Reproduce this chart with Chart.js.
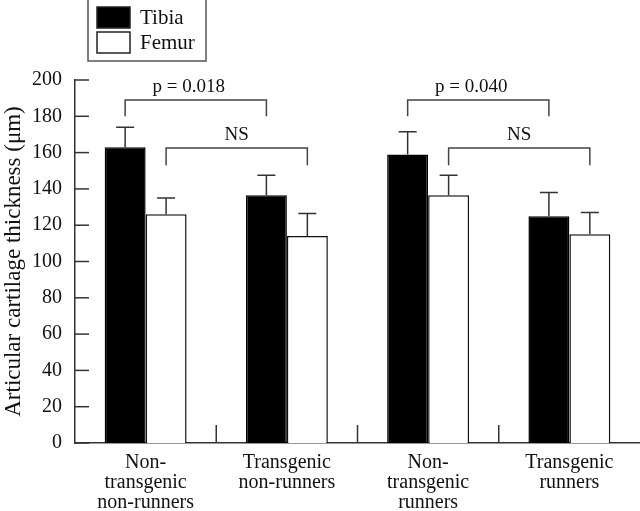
<!DOCTYPE html>
<html><head><meta charset="utf-8">
<script src="https://cdn.jsdelivr.net/npm/chart.js@4"></script>
<style>html,body{margin:0;padding:0;background:#fff}#wrap{width:640px;height:511px}</style>
</head><body><div id="wrap"><canvas id="c" width="640" height="511"></canvas></div>
<script>
const categories = [["Non-","transgenic","non-runners"],["Transgenic","non-runners"],["Non-","transgenic","runners"],["Transgenic","runners"]];
const seriesNames = ["Tibia","Femur"];
const tibia = [163, 136.5, 159, 125];
const femur = [126, 114, 136.5, 115];
const tibiaErr = [11, 11, 12.5, 13];
const femurErr = [9, 12.5, 11, 12];
const yTicks = [0,20,40,60,80,100,120,140,160,180,200];
const brackets = [
  {from:[0,0], to:[1,0], y:189, leg:180, label:"p = 0.018"},
  {from:[0,1], to:[1,1], y:162.5, leg:153, label:"NS"},
  {from:[2,0], to:[3,0], y:189, leg:180, label:"p = 0.040"},
  {from:[2,1], to:[3,1], y:162.5, leg:153, label:"NS"}
];
const errs = [tibiaErr, femurErr];
const FONT = "'Liberation Serif', 'Times New Roman', serif";

const overlay = {
  id:'overlay',
  afterDatasetsDraw(chart){
    const ctx = chart.ctx, y = chart.scales.y, x = chart.scales.x;
    ctx.save();
    // error bars
    ctx.strokeStyle = '#333'; ctx.lineWidth = 1.5;
    [0,1].forEach(d=>{
      const meta = chart.getDatasetMeta(d);
      meta.data.forEach((bar,i)=>{
        const v = chart.data.datasets[d].data[i];
        const top = y.getPixelForValue(v + errs[d][i]);
        ctx.beginPath();
        ctx.moveTo(bar.x, bar.y); ctx.lineTo(bar.x, top);
        ctx.moveTo(bar.x-9, top); ctx.lineTo(bar.x+9, top);
        ctx.stroke();
      });
    });
    // y ticks (inside)
    ctx.strokeStyle = '#333'; ctx.lineWidth = 1.5;
    yTicks.forEach(t=>{
      const py = y.getPixelForValue(t);
      ctx.beginPath(); ctx.moveTo(chart.chartArea.left, py); ctx.lineTo(chart.chartArea.left+14, py); ctx.stroke();
    });
    // x ticks between categories
    for(let i=1;i<categories.length;i++){
      const px = (x.getPixelForValue(i-1)+x.getPixelForValue(i))/2;
      ctx.beginPath(); ctx.moveTo(px, chart.chartArea.bottom); ctx.lineTo(px, chart.chartArea.bottom-18); ctx.stroke();
    }
    // brackets
    ctx.strokeStyle = '#444'; ctx.lineWidth = 1.5;
    ctx.fillStyle = '#111'; ctx.font = '19px ' + FONT; ctx.textAlign='center'; ctx.textBaseline='alphabetic';
    brackets.forEach(b=>{
      const xa = chart.getDatasetMeta(b.from[1]).data[b.from[0]].x;
      const xb = chart.getDatasetMeta(b.to[1]).data[b.to[0]].x;
      const py = y.getPixelForValue(b.y), pl = y.getPixelForValue(b.leg);
      ctx.beginPath();
      ctx.moveTo(xa, pl); ctx.lineTo(xa, py); ctx.lineTo(xb, py); ctx.lineTo(xb, pl);
      ctx.stroke();
      const shift = b.label.startsWith('p') ? -7 : 0;
      ctx.fillText(b.label, (xa+xb)/2 + shift, py-8);
    });
    // legend
    ctx.strokeStyle = '#555'; ctx.lineWidth = 1.5;
    ctx.strokeRect(88, -1, 118, 62);
    ctx.font = '21px ' + FONT; ctx.textAlign='left'; ctx.textBaseline='middle';
    chart.data.datasets.forEach((ds,k)=>{
      const by = 7 + k*25;
      ctx.fillStyle = ds.backgroundColor; ctx.fillRect(97, by, 33, 21);
      ctx.strokeStyle = '#222'; ctx.strokeRect(97, by, 33, 21);
      ctx.fillStyle = '#111'; ctx.fillText(ds.label, 140, by+11);
    });
    ctx.restore();
  }
};

new Chart(document.getElementById('c'), {
  type:'bar',
  data:{
    labels: categories,
    datasets:[
      {label: seriesNames[0], data: tibia, backgroundColor:'#000', borderColor:'#000', borderWidth:1.5},
      {label: seriesNames[1], data: femur, backgroundColor:'#fff', borderColor:'#111', borderWidth:1.5}
    ]
  },
  options:{
    responsive:false, animation:false, devicePixelRatio:1,
    layout:{padding:{top:80, left:0, right:0, bottom:0}},
    plugins:{legend:{display:false}, tooltip:{enabled:false}},
    datasets:{bar:{categoryPercentage:0.58, barPercentage:1.0}},
    scales:{
      x:{
        grid:{display:false, drawTicks:false},
        border:{display:true, color:'#333', width:1.5},
        ticks:{color:'#111', font:{family:FONT, size:20, lineHeight:1.0}, padding:10, maxRotation:0, autoSkip:false},
        afterFit(s){ s.height = 68; }
      },
      y:{
        min:0, max:200,
        grid:{display:false, drawTicks:false},
        border:{display:true, color:'#333', width:1.5},
        afterBuildTicks(s){ s.ticks = yTicks.map(v=>({value:v})); },
        ticks:{color:'#111', font:{family:FONT, size:20}, padding:13},
        title:{display:true, text:'Articular cartilage thickness (\u03bcm)', color:'#111', font:{family:FONT, size:23}, padding:{top:0,bottom:0}},
        afterFit(s){ s.width = 75; }
      }
    }
  },
  plugins:[overlay]
});
</script></body></html>
